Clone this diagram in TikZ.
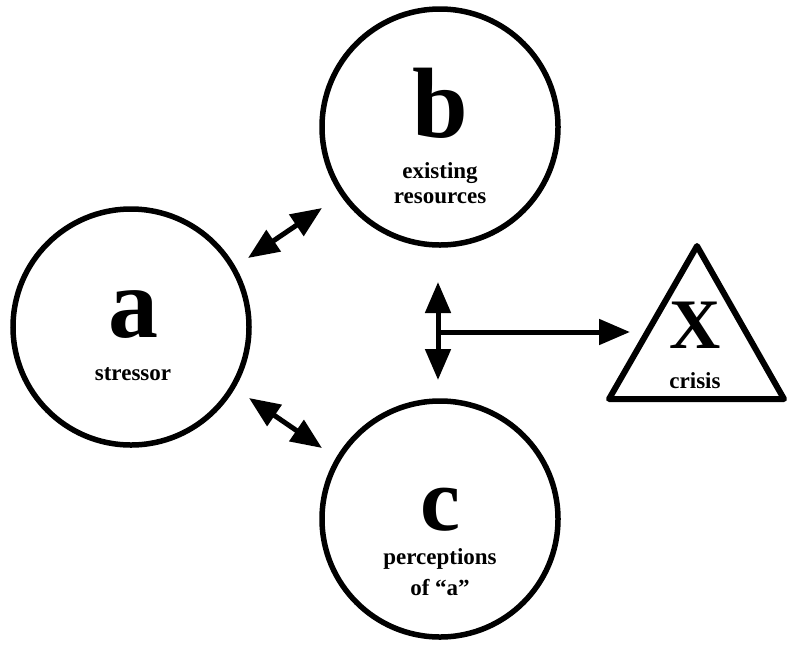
\documentclass[tikz,border=0pt]{standalone}
\usepackage{fontspec}
\setmainfont{Liberation Serif}
\usetikzlibrary{arrows.meta}
\begin{document}
\begin{tikzpicture}[x=1pt,y=-1pt,
  ring/.style={circle,draw,line width=5.5pt,minimum size=236pt,inner sep=0pt},
  big/.style={font=\fontsize{100}{100}\selectfont\bfseries,inner sep=0pt,anchor=base},
  lbl/.style={font=\fontsize{23}{23}\selectfont\bfseries,inner sep=0pt,anchor=base},
  dbl/.style={line width=5pt,{Triangle[length=31pt,width=25pt]}-{Triangle[length=31pt,width=25pt]}},
  one/.style={line width=5pt,-{Triangle[length=31pt,width=25pt]}}]
\fill[white] (0,0) rectangle (791,646);
\useasboundingbox (0,0) rectangle (791,646);
% circles
\node[ring] (a) at (131,327) {};
\node[ring] (b) at (440,127) {};
\node[ring] (c) at (440,519) {};
% triangle
\coordinate (xt) at (697,246);
\coordinate (xl) at (609,399);
\coordinate (xr) at (784,399);
\draw[line width=6pt,line join=round] (xt) -- (xl) -- (xr) -- cycle;
% labels
\node[big] (la) at (133,337) {a};
\node[lbl] (sa) at (133,380) {stressor};
\node[big] (lb) at (440,137) {b};
\node[lbl] (sb1) at (440,178) {existing};
\node[lbl] (sb2) at (440,203) {resources};
\node[big,font=\fontsize{90}{90}\selectfont\bfseries] (lc) at (440,530) {c};
\node[lbl] (sc1) at (440,564) {perceptions};
\node[lbl] (sc2) at (440,595) {of ``a''};
\node[big,font=\fontsize{71}{71}\selectfont\bfseries] (lx) at (695,348) {X};
\node[lbl] (sx) at (695,388) {crisis};
% arrows
\coordinate (ab1) at (248,258);
\coordinate (ab2) at (322,208);
\coordinate (ac1) at (249,398);
\coordinate (ac2) at (322,448);
\coordinate (v1) at (438,282);
\coordinate (v2) at (438,380);
\coordinate (h1) at (436,332);
\coordinate (h2) at (630,332);
\draw[dbl] (ab1) -- (ab2);
\draw[dbl] (ac1) -- (ac2);
\draw[dbl] (v1) -- (v2);
\draw[one] (h1) -- (h2);
\end{tikzpicture}
\end{document}
